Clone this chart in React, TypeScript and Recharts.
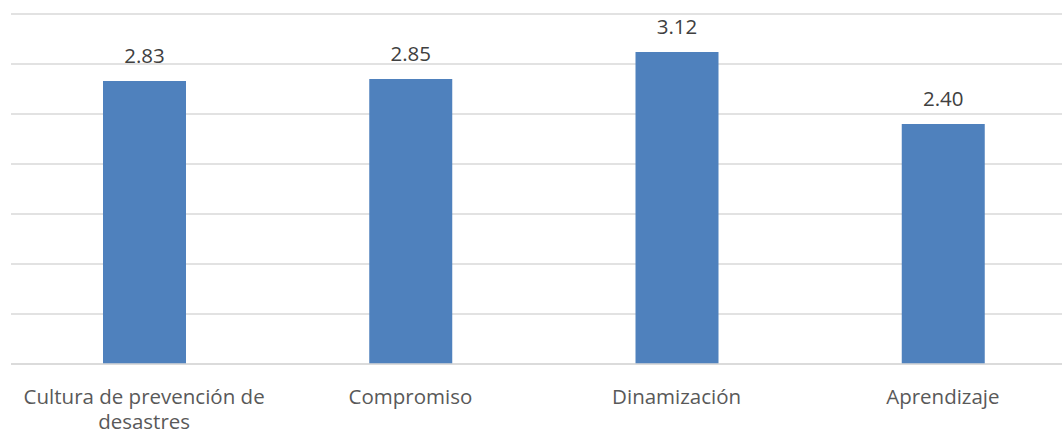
import React from "react";
import { BarChart, Bar, XAxis, YAxis, CartesianGrid, LabelList, Text } from "recharts";

const categories = ["Cultura de prevención de desastres", "Compromiso", "Dinamización", "Aprendizaje"];
const values = [2.83, 2.85, 3.12, 2.4];
const yTicks = [0, 0.5, 1, 1.5, 2, 2.5, 3, 3.5];

const data = categories.map((name, i) => ({ name, value: values[i] }));

const FONT = "'Open Sans', sans-serif";

const CategoryTick = (props: any) => {
  const { x, y, payload } = props;
  return (
    <Text
      x={x}
      y={y + 25}
      width={255}
      textAnchor="middle"
      verticalAnchor="start"
      lineHeight={25}
      fill="#595959"
      style={{ fontFamily: FONT, fontSize: 20.5 }}
    >
      {payload.value}
    </Text>
  );
};

export default function App() {
  return (
    <div style={{ position: "absolute", left: 0, top: 0, width: 1062, height: 434, overflow: "hidden", background: "#fff" }}>
      <BarChart width={1080} height={434} data={data} margin={{ top: 14, right: 4, bottom: 0, left: 11 }} barSize={83}>
        <CartesianGrid vertical={false} stroke="#d9d9d9" strokeWidth={1.3} />
        <YAxis hide domain={[0, 3.5]} ticks={yTicks} />
        <XAxis
          dataKey="name"
          height={70}
          tickLine={false}
          tickSize={0}
          tickMargin={0}
          axisLine={{ stroke: "#d9d9d9", strokeWidth: 1.3 }}
          interval={0}
          tick={<CategoryTick />}
        />
        <Bar dataKey="value" fill="#4F81BD" isAnimationActive={false}>
          <LabelList
            dataKey="value"
            position="top"
            offset={18}
            formatter={(v: any) => Number(v).toFixed(2)}
            style={{ fontFamily: FONT, fontSize: 20.5, fill: "#404040" }}
          />
        </Bar>
      </BarChart>
    </div>
  );
}
